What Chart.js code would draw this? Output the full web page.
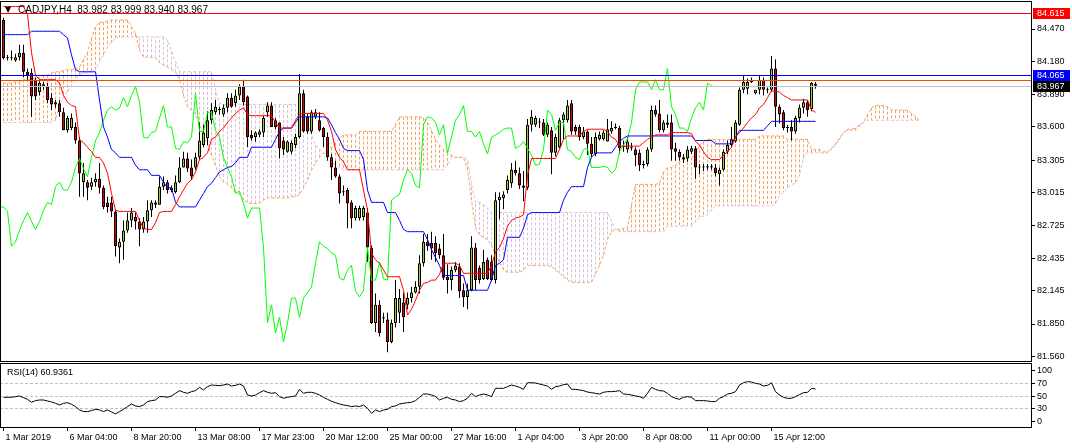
<!DOCTYPE html>
<html><head><meta charset="utf-8">
<script src="https://cdn.jsdelivr.net/npm/chart.js@4.4.1/dist/chart.umd.min.js"></script>
<style>
html,body{margin:0;padding:0;background:#fff;width:1072px;height:448px;overflow:hidden}
canvas{position:absolute;left:0;display:block}
#c1{top:0}
#c2{top:362px}
</style></head><body>
<canvas id="c1" width="1072" height="362"></canvas>
<canvas id="c2" width="1072" height="86"></canvas>
<script>
// ---------- data ----------
const symbol = 'CADJPY';
const timeframe = 'H4';
const opens = [
84.55,84.21,84.21,84.19,84.22,84.26,84.09,84.08,84.02,83.91,
83.96,83.96,83.86,83.80,83.81,83.73,83.57,83.59,83.60,83.48,
83.11,83.11,83.07,83.11,83.14,83.06,82.93,82.93,82.85,82.53,
82.58,82.68,82.77,82.80,82.76,82.69,82.76,82.86,82.93,82.91,
83.07,83.11,83.06,83.02,83.11,83.24,83.32,83.24,83.24,83.33,
83.44,83.50,83.66,83.73,83.75,83.71,83.77,83.86,83.81,83.88,
83.96,83.87,83.53,83.51,83.53,83.55,83.73,83.79,83.66,83.64,
83.48,83.38,83.38,83.44,83.51,83.90,83.69,83.56,83.69,83.66,
83.59,83.51,83.33,83.24,83.16,83.02,83.04,82.93,82.79,82.79,
82.80,82.84,82.53,81.86,82.02,81.90,81.89,81.69,81.86,81.95,
82.04,82.02,82.08,82.13,82.18,82.39,82.58,82.57,82.57,82.52,
82.46,82.27,82.24,82.33,82.36,82.15,82.09,82.15,82.53,82.35,
82.25,82.42,82.40,82.24,82.95,82.97,83.04,83.10,83.22,83.19,
83.08,83.06,83.62,83.62,83.64,83.64,83.53,83.57,83.37,83.42,
83.66,83.66,83.81,83.60,83.60,83.51,83.56,83.45,83.36,83.49,
83.49,83.47,83.56,83.59,83.59,83.42,83.40,83.42,83.40,83.37,
83.26,83.27,83.40,83.75,83.72,83.57,83.62,83.64,83.41,83.38,
83.33,83.32,83.38,83.41,83.24,83.24,83.24,83.25,83.24,83.18,
83.22,83.38,83.44,83.47,83.62,83.93,83.94,84.00,83.90,83.93,
84.02,83.93,83.93,84.12,83.78,83.73,83.60,83.60,83.56,83.68,
83.77,83.82,83.76,83.982];
const highs = [
84.57,84.24,84.28,84.25,84.33,84.33,84.12,84.12,84.04,84.02,
84.00,83.99,83.90,83.84,83.84,83.77,83.70,83.72,83.64,83.51,
83.28,83.13,83.15,83.19,83.28,83.08,82.98,82.98,82.86,82.61,
82.77,82.84,82.88,82.84,82.79,82.80,82.95,82.95,82.95,83.16,
83.16,83.13,83.08,83.17,83.33,83.38,83.37,83.31,83.37,83.64,
83.62,83.74,83.81,83.84,83.78,83.80,83.90,83.90,83.93,83.98,
84.02,83.88,83.57,83.56,83.58,83.70,83.82,83.82,83.68,83.64,
83.51,83.48,83.48,83.54,84.07,83.93,83.72,83.75,83.76,83.73,
83.60,83.55,83.36,83.30,83.18,83.08,83.06,82.95,82.90,82.90,
82.90,82.88,82.55,82.12,82.06,81.95,81.95,81.89,82.24,82.16,
82.13,82.13,82.18,82.23,82.46,82.65,82.65,82.67,82.63,82.56,
82.65,82.38,82.36,82.40,82.39,82.21,82.21,82.63,82.57,82.37,
82.51,82.44,82.46,83.02,83.02,83.03,83.17,83.28,83.30,83.24,
83.21,83.67,83.75,83.70,83.68,83.67,83.64,83.60,83.54,83.68,
83.73,83.84,83.84,83.62,83.62,83.60,83.57,83.51,83.55,83.56,
83.57,83.67,83.65,83.63,83.61,83.48,83.51,83.46,83.42,83.40,
83.30,83.42,83.79,83.79,83.84,83.66,83.71,83.71,83.46,83.40,
83.36,83.43,83.43,83.43,83.27,83.27,83.27,83.27,83.27,83.24,
83.40,83.48,83.60,83.66,83.95,84.06,84.03,84.04,83.93,84.06,
84.04,83.95,84.23,84.20,83.80,83.75,83.62,83.66,83.70,83.80,
83.85,83.84,84.00,83.999];
const lows = [
84.20,84.19,84.19,84.18,84.19,84.04,84.02,83.69,83.84,83.88,
83.93,83.81,83.75,83.77,83.69,83.57,83.55,83.57,83.45,82.98,
82.98,82.95,83.04,83.07,83.01,82.87,82.84,82.80,82.45,82.39,
82.42,82.66,82.71,82.69,82.54,82.66,82.66,82.80,82.88,82.91,
83.04,83.01,83.02,83.01,83.10,83.24,83.20,83.13,83.22,83.31,
83.42,83.44,83.63,83.71,83.71,83.69,83.73,83.77,83.78,83.84,
83.79,83.42,83.48,83.47,83.51,83.51,83.69,83.60,83.58,83.32,
83.35,83.37,83.36,83.41,83.50,83.55,83.54,83.54,83.67,83.56,
83.42,83.30,83.13,83.15,82.92,82.99,82.70,82.70,82.77,82.77,
82.77,82.40,81.85,81.78,81.74,81.86,81.60,81.68,81.82,81.86,
81.78,81.98,82.04,82.12,82.12,82.36,82.50,82.42,82.40,82.43,
82.24,82.12,82.15,82.31,82.08,82.00,81.98,82.14,82.15,82.21,
82.24,82.24,82.23,82.21,82.78,82.87,83.01,83.06,83.17,83.05,
82.94,83.04,83.56,83.60,83.59,83.52,83.51,83.18,83.34,83.41,
83.49,83.64,83.53,83.53,83.48,83.49,83.35,83.33,83.34,83.48,
83.48,83.47,83.54,83.58,83.36,83.38,83.37,83.39,83.25,83.21,
83.23,83.25,83.38,83.69,83.55,83.55,83.59,83.30,83.30,83.30,
83.28,83.29,83.36,83.14,83.18,83.21,83.22,83.22,83.16,83.08,
83.21,83.36,83.42,83.46,83.61,83.90,83.89,83.99,83.89,83.89,
83.88,83.90,83.91,83.60,83.63,83.57,83.55,83.48,83.54,83.64,
83.72,83.69,83.74,83.940];
const closes = [
84.21,84.21,84.21,84.22,84.26,84.09,84.06,83.87,83.87,83.99,
83.98,83.84,83.80,83.82,83.73,83.57,83.68,83.68,83.48,83.19,
83.19,83.06,83.11,83.14,83.06,82.89,82.89,82.85,82.54,82.58,
82.68,82.77,82.84,82.76,82.69,82.76,82.86,82.93,82.91,83.07,
83.11,83.04,83.04,83.11,83.24,83.32,83.23,83.16,83.33,83.48,
83.55,83.66,83.75,83.78,83.75,83.77,83.86,83.78,83.88,83.96,
83.82,83.51,83.50,83.55,83.56,83.68,83.79,83.60,83.60,83.41,
83.40,83.47,83.46,83.51,83.90,83.56,83.56,83.73,83.73,83.57,
83.51,83.33,83.24,83.16,83.01,83.03,82.92,82.79,82.88,82.88,
82.88,82.53,81.86,82.02,81.77,81.91,81.69,81.86,82.08,82.08,
81.91,82.08,82.13,82.18,82.39,82.58,82.54,82.52,82.48,82.46,
82.26,82.24,82.33,82.37,82.14,82.09,82.15,82.53,82.24,82.24,
82.40,82.25,82.24,82.95,82.98,83.00,83.13,83.22,83.19,83.08,
83.06,83.62,83.69,83.68,83.64,83.53,83.62,83.37,83.51,83.66,
83.71,83.79,83.56,83.56,83.51,83.56,83.45,83.36,83.51,83.53,
83.55,83.58,83.59,83.59,83.41,83.43,83.47,83.41,83.35,83.26,
83.27,83.40,83.75,83.71,83.57,83.64,83.64,83.40,83.38,83.33,
83.31,83.40,83.41,83.24,83.24,83.24,83.25,83.24,83.19,83.22,
83.38,83.44,83.49,83.64,83.93,84.00,84.00,84.00,83.93,84.02,
83.93,83.93,84.12,83.78,83.71,83.59,83.59,83.56,83.68,83.77,
83.82,83.75,83.99,83.967];
// Ichimoku Tenkan-sen (red), Kijun-sen (blue), one value per bar
const tenkan = [
84.67,84.67,84.67,84.67,84.67,84.67,84.60,84.26,84.06,84.02,
84.02,84.02,84.02,84.02,83.99,83.88,83.82,83.79,83.78,83.49,
83.46,83.42,83.38,83.33,83.33,83.28,83.19,83.01,82.86,82.85,
82.85,82.85,82.85,82.85,82.77,82.70,82.69,82.69,82.75,82.84,
82.85,82.85,82.85,82.91,82.98,83.04,83.10,83.13,83.20,83.31,
83.33,83.37,83.49,83.51,83.56,83.59,83.64,83.68,83.72,83.75,
83.77,83.71,83.70,83.70,83.70,83.70,83.70,83.70,83.64,83.59,
83.59,83.59,83.59,83.66,83.71,83.72,83.72,83.72,83.72,83.72,
83.72,83.66,83.56,83.40,83.33,83.29,83.22,83.22,83.22,83.22,
83.04,82.86,82.48,82.42,82.39,82.33,82.27,82.27,82.27,82.27,
82.15,81.93,81.98,82.06,82.15,82.21,82.22,82.24,82.24,82.29,
82.39,82.39,82.39,82.39,82.37,82.30,82.30,82.30,82.30,82.30,
82.30,82.30,82.37,82.49,82.53,82.61,82.72,82.77,82.79,82.80,
82.82,83.17,83.32,83.32,83.32,83.32,83.32,83.32,83.32,83.40,
83.49,83.52,83.52,83.52,83.52,83.56,83.58,83.58,83.58,83.58,
83.58,83.56,83.51,83.49,83.43,83.43,83.43,83.43,83.43,83.43,
83.46,83.49,83.51,83.53,83.53,83.53,83.53,83.55,83.55,83.55,
83.55,83.55,83.54,83.47,83.44,83.38,83.33,83.31,83.31,83.31,
83.35,83.38,83.42,83.51,83.55,83.59,83.64,83.68,83.71,83.77,
83.80,83.86,83.92,83.92,83.91,83.88,83.86,83.84,83.84,83.84,
83.84,83.84,83.75,83.73];
const kijun = [
84.42,84.42,84.42,84.42,84.42,84.42,84.42,84.45,84.45,84.45,
84.45,84.45,84.45,84.45,84.45,84.42,84.39,84.24,84.11,84.09,
84.09,84.09,84.09,84.09,83.84,83.60,83.51,83.40,83.37,83.33,
83.33,83.33,83.33,83.26,83.22,83.22,83.22,83.17,83.17,83.17,
83.11,83.06,83.06,82.93,82.89,82.89,82.89,82.89,82.89,82.95,
83.01,83.07,83.10,83.15,83.20,83.22,83.24,83.25,83.28,83.33,
83.33,83.33,83.42,83.42,83.42,83.42,83.42,83.42,83.49,83.56,
83.59,83.59,83.59,83.64,83.69,83.69,83.69,83.69,83.69,83.69,
83.69,83.68,83.62,83.55,83.49,83.41,83.39,83.39,83.39,83.39,
83.31,83.04,82.93,82.93,82.93,82.93,82.84,82.84,82.84,82.77,
82.69,82.67,82.67,82.67,82.67,82.67,82.60,82.51,82.44,82.37,
82.28,82.28,82.28,82.28,82.28,82.28,82.15,82.15,82.15,82.15,
82.15,82.15,82.24,82.37,82.39,82.42,82.62,82.62,82.62,82.62,
82.70,82.82,82.84,82.84,82.84,82.84,82.84,82.84,82.84,82.84,
82.95,83.02,83.07,83.07,83.07,83.07,83.24,83.33,83.37,83.37,
83.37,83.37,83.37,83.42,83.47,83.50,83.52,83.52,83.52,83.52,
83.52,83.52,83.52,83.52,83.52,83.52,83.52,83.52,83.52,83.52,
83.52,83.52,83.52,83.48,83.48,83.48,83.48,83.48,83.45,83.45,
83.45,83.45,83.45,83.51,83.57,83.57,83.57,83.57,83.57,83.57,
83.57,83.61,83.65,83.65,83.65,83.65,83.65,83.65,83.65,83.65,
83.65,83.65,83.65,83.65];
// Senkou span A / B as displayed (already shifted 26 bars forward)
const senkouA = [
83.99,83.99,83.99,84.00,84.00,84.02,84.02,84.02,84.04,84.04,
84.06,84.06,84.08,84.09,84.09,84.10,84.11,84.11,84.11,84.13,
84.20,84.26,84.39,84.49,84.53,84.53,84.54,84.55,84.55,84.55,
84.55,84.55,84.49,84.43,84.28,84.22,84.22,84.22,84.21,84.17,
84.15,84.13,84.11,84.09,84.02,83.88,83.78,83.75,83.71,83.62,
83.53,83.44,83.35,83.26,83.16,83.11,83.09,83.06,83.02,83.00,
82.95,82.93,82.92,82.92,82.92,82.95,82.97,82.97,82.97,82.97,
82.97,82.97,82.98,82.98,83.00,83.06,83.13,83.22,83.28,83.33,
83.37,83.40,83.42,83.46,83.50,83.53,83.53,83.53,83.53,83.56,
83.56,83.56,83.56,83.56,83.56,83.56,83.56,83.56,83.62,83.69,
83.69,83.69,83.69,83.69,83.69,83.68,83.64,83.57,83.49,83.44,
83.40,83.37,83.35,83.33,83.33,83.33,83.22,82.95,82.71,82.64,
82.62,82.60,82.55,82.46,82.40,82.33,82.31,82.31,82.31,82.31,
82.33,82.37,82.37,82.37,82.37,82.37,82.37,82.36,82.33,82.30,
82.27,82.24,82.22,82.22,82.22,82.22,82.22,82.22,82.29,82.37,
82.46,82.60,82.67,82.69,82.69,82.70,82.70,82.91,83.09,83.09,
83.09,83.09,83.09,83.09,83.10,83.20,83.24,83.24,83.26,83.29,
83.31,83.33,83.33,83.35,83.44,83.47,83.49,83.49,83.49,83.49,
83.49,83.49,83.49,83.49,83.49,83.49,83.49,83.49,83.49,83.52,
83.52,83.52,83.52,83.52,83.52,83.52,83.49,83.49,83.49,83.49,
83.49,83.49,83.40,83.40,83.40,83.38,83.38,83.41,83.45,83.50,
83.55,83.58,83.58,83.59,83.62,83.64,83.71,83.77,83.79,83.79,
83.79,83.78,83.75,83.75,83.75,83.75,83.75,83.72,83.69,83.66];
const senkouB = [
83.64,83.64,83.64,83.64,83.64,83.64,83.64,83.64,83.64,83.64,
83.64,83.64,83.64,83.66,83.79,83.87,83.91,83.97,84.02,84.06,
84.08,84.08,84.09,84.11,84.18,84.24,84.31,84.35,84.39,84.40,
84.40,84.40,84.40,84.40,84.40,84.40,84.40,84.40,84.40,84.40,
84.40,84.37,84.28,84.18,84.09,84.09,84.09,84.09,84.09,84.09,
84.09,84.09,84.09,83.93,83.81,83.80,83.80,83.80,83.80,83.80,
83.80,83.80,83.80,83.80,83.80,83.80,83.80,83.80,83.80,83.80,
83.80,83.80,83.80,83.80,83.79,83.75,83.62,83.53,83.44,83.40,
83.37,83.35,83.31,83.26,83.24,83.22,83.22,83.22,83.22,83.22,
83.22,83.22,83.22,83.22,83.22,83.22,83.22,83.22,83.22,83.22,
83.22,83.22,83.22,83.22,83.22,83.22,83.22,83.22,83.22,83.22,
83.22,83.26,83.33,83.33,83.33,83.33,83.31,83.09,82.93,82.93,
82.91,82.88,82.84,82.84,82.84,82.84,82.84,82.84,82.84,82.84,
82.84,82.84,82.84,82.84,82.84,82.84,82.84,82.84,82.84,82.84,
82.84,82.84,82.84,82.84,82.84,82.84,82.84,82.84,82.84,82.84,
82.84,82.84,82.77,82.69,82.67,82.67,82.67,82.67,82.67,82.67,
82.67,82.67,82.67,82.67,82.67,82.67,82.72,82.72,82.72,82.72,
82.72,82.72,82.72,82.76,82.80,82.81,82.82,82.86,82.90,82.90,
82.90,82.90,82.90,82.90,82.90,82.90,82.90,82.90,82.90,82.90,
82.90,82.90,82.90,82.92,82.99,83.02,83.06,83.09,83.10,83.17,
83.33,83.37,83.37,83.37,83.37,83.37,83.37,83.40,83.44,83.49,
83.55,83.57,83.57,83.57,83.60,83.64,83.66,83.66,83.66,83.66,
83.66,83.66,83.66,83.66,83.66,83.66,83.66,83.66,83.66,83.66];
const chikouShift = 26;
const rsiPeriod = 14;
const rsi = [
47.6,47.6,47.6,48.7,49.7,47.0,44.4,39.6,42.3,43.3,
43.3,41.7,40.1,38.0,35.3,38.0,39.0,36.4,32.7,27.4,
24.7,24.7,26.3,28.4,27.4,24.7,27.4,24.2,21.0,24.7,
28.4,32.7,36.9,33.7,32.7,35.3,40.7,42.3,43.3,48.7,
48.7,47.6,49.7,54.0,58.3,55.6,54.0,56.7,58.3,63.6,
59.3,64.7,67.3,66.8,66.3,67.3,68.9,65.7,66.8,68.9,
65.7,51.3,49.7,51.3,55.0,58.3,55.6,54.0,55.0,48.7,
46.0,47.6,48.7,49.7,60.4,54.0,55.6,55.6,54.0,51.3,
47.6,44.4,41.2,39.0,36.9,35.3,34.3,32.7,33.7,32.7,
35.3,30.0,22.0,27.3,24.7,27.3,28.4,32.7,33.7,36.9,
38.0,39.0,39.6,42.3,47.6,52.9,52.9,51.3,48.7,43.3,
46.0,47.6,44.4,43.3,40.7,42.3,46.0,54.0,48.7,51.3,
52.9,51.3,48.7,62.0,62.0,62.0,64.7,67.3,65.7,63.6,
60.4,71.0,71.0,70.5,68.9,67.3,65.7,60.4,64.7,65.7,
67.9,68.9,60.4,60.4,59.3,58.3,56.1,55.0,54.0,52.9,
55.6,56.7,56.7,57.2,58.3,52.9,52.4,51.3,49.7,48.7,
46.0,54.0,63.6,60.4,58.3,57.7,54.0,48.7,46.0,44.4,
47.6,48.7,47.6,42.3,42.3,42.3,41.7,40.7,40.7,46.0,
48.7,52.9,54.0,56.7,67.3,71.0,72.7,72.1,70.0,68.9,
65.7,66.8,71.0,56.7,51.3,47.6,46.0,46.0,48.7,51.9,
55.0,55.6,62.0,60.9361];
const rsiLevels = [70, 50, 30];
const rsiAxisLabels = [100, 70, 50, 30, 0];
const priceTicks = [84.470, 84.180, 83.890, 83.600, 83.305, 83.015, 82.725, 82.435, 82.145, 81.850, 81.560];
const xTickBars = [0, 16, 32, 48, 64, 80, 96, 112, 128, 144, 160, 176, 192];
const xTickLabels = ['1 Mar 2019','6 Mar 04:00','8 Mar 20:00','13 Mar 08:00','17 Mar 23:00','20 Mar 12:00',
  '25 Mar 00:00','27 Mar 16:00','1 Apr 04:00','3 Apr 20:00','8 Apr 08:00','11 Apr 00:00','15 Apr 12:00'];
const levelValues = [84.615, 84.065, 84.015, 83.967];
const boxLevels = [84.615, 84.065, 83.967];

// ---------- styles ----------
const levelColors = ['#FF0000', '#0000FF', '#FF4500', '#C0C0C0'];
const boxColors = ['#FF0000', '#0000FF', '#000000'];
const FAM = '"Liberation Sans", Arial, sans-serif';
const F9 = '9px ' + FAM;
const X_MIN = -0.875, X_MAX = 256.875;
const Y_MIN = 81.5215, Y_MAX = 84.7098;
const bull = '#9ACD32', bear = '#DD0000';
const colA = '#F4A460', colB = '#D8BFD8';

const last = closes.length - 1;
const bars = closes.map((c, i) => i);

// cloud hatch: one dashed vertical stroke per bar from span A to span B, split by which span is on top
const hatchUp = [], hatchDown = [];
senkouA.forEach((a, i) => {
  const b = senkouB[i];
  const target = a >= b ? hatchUp : hatchDown;
  target.push({x: i, y: a}, {x: i, y: b}, {x: i, y: null});
});

const mainDeco = {
  id: 'mainDeco',
  beforeDraw(chart) {
    const c = chart.ctx; c.save(); c.fillStyle = '#fff'; c.fillRect(0, 0, chart.width, chart.height); c.restore();
  },
  afterDatasetsDraw(chart) {
    const c = chart.ctx, a = chart.chartArea, y = chart.scales.y;
    c.save();
    c.lineWidth = 1;
    levelValues.forEach((v, k) => {
      const py = Math.round(y.getPixelForValue(v)) + 0.5;
      c.strokeStyle = levelColors[k];
      c.beginPath(); c.moveTo(a.left, py); c.lineTo(a.right + 1, py); c.stroke();
    });
    c.strokeStyle = '#000';
    c.strokeRect(a.left + 0.5, a.top - 0.5, a.right - a.left, a.bottom - a.top + 1);
    c.fillStyle = '#000';
    c.textBaseline = 'middle';
    c.font = '8px "DejaVu Sans", sans-serif';
    c.fillText('\u25BC', 5, 10);
    c.font = '10px ' + FAM;
    const t = symbol + ',' + timeframe + '  ' + [opens[last], highs[last], lows[last], closes[last]].map(v => v.toFixed(3)).join(' ');
    c.fillText(t, 18, 10);
    c.restore();
  },
  afterDraw(chart) {
    const c = chart.ctx, a = chart.chartArea, y = chart.scales.y;
    c.save();
    c.font = F9; c.textBaseline = 'middle';
    boxLevels.forEach((v, k) => {
      const py = Math.round(y.getPixelForValue(v));
      c.fillStyle = boxColors[k];
      c.fillRect(a.right + 2, py - 5, 37, 11);
      c.fillStyle = '#fff';
      c.fillText(v.toFixed(3), a.right + 6, py + 0.5);
    });
    c.restore();
  }
};

new Chart(document.getElementById('c1').getContext('2d'), {
  type: 'bar',
  data: {
    datasets: [
      { type: 'line', data: tenkan.map((v, i) => ({x: bars[i], y: v})), borderColor: '#FF0000', borderWidth: 1, pointRadius: 0, order: 0 },
      { type: 'line', data: kijun.map((v, i) => ({x: bars[i], y: v})), borderColor: '#0000FF', borderWidth: 1, pointRadius: 0, order: 0 },
      { type: 'line', data: closes.map((v, i) => ({x: i - chikouShift, y: v})), borderColor: '#00FF00', borderWidth: 1, pointRadius: 0, order: 0 },
      { type: 'bar', data: lows.map((v, i) => ({x: bars[i], y: [v, highs[i]]})), backgroundColor: '#000', borderWidth: 0,
        barThickness: 1, grouped: false, inflateAmount: 0, order: 2 },
      { type: 'bar', data: opens.map((v, i) => ({x: bars[i], y: [v, closes[i]]})),
        backgroundColor: opens.map((v, i) => closes[i] >= v ? bull : bear), borderColor: '#000', borderWidth: 1,
        borderSkipped: false, barThickness: 3, minBarLength: 1, grouped: false, inflateAmount: 0, order: 1 },
      { type: 'line', data: hatchUp, borderColor: colA, borderWidth: 1, borderDash: [3, 2], pointRadius: 0, spanGaps: false, order: 4 },
      { type: 'line', data: hatchDown, borderColor: colB, borderWidth: 1, borderDash: [3, 2], pointRadius: 0, spanGaps: false, order: 4 },
      { type: 'line', data: senkouA.map((v, i) => ({x: i, y: v})), borderColor: colA, borderWidth: 1, borderDash: [3, 2],
        pointRadius: 0, order: 3 },
      { type: 'line', data: senkouB.map((v, i) => ({x: i, y: v})), borderColor: colB, borderWidth: 1, borderDash: [3, 2],
        pointRadius: 0, order: 3 }
    ]
  },
  options: {
    responsive: false, animation: false, devicePixelRatio: 1,
    layout: { padding: { left: 0, right: 0, top: 2, bottom: 1 } },
    plugins: { legend: { display: false }, tooltip: { enabled: false } },
    scales: {
      x: { type: 'linear', min: X_MIN, max: X_MAX, display: false, offset: false },
      y: {
        position: 'right', min: Y_MIN, max: Y_MAX,
        afterBuildTicks: s => { s.ticks = priceTicks.map(v => ({ value: v })); },
        afterFit: s => { s.width = 41; s.paddingTop = 0; s.paddingBottom = 0; },
        ticks: { font: { family: FAM, size: 9 }, color: '#000', padding: 2, autoSkip: false, callback: v => Number(v).toFixed(3) },
        grid: { drawOnChartArea: false, tickLength: 4, color: '#000' },
        border: { display: false }
      }
    }
  },
  plugins: [mainDeco]
});

const rsiDeco = {
  id: 'rsiDeco',
  beforeDraw(chart) {
    const c = chart.ctx; c.save(); c.fillStyle = '#fff'; c.fillRect(0, 0, chart.width, chart.height); c.restore();
  },
  beforeDatasetsDraw(chart) {
    const c = chart.ctx, a = chart.chartArea, y = chart.scales.y;
    c.save(); c.lineWidth = 1; c.strokeStyle = '#C0C0C0'; c.setLineDash([3, 2]);
    rsiLevels.forEach(v => {
      const py = Math.round(y.getPixelForValue(v)) + 0.5;
      c.beginPath(); c.moveTo(a.left, py); c.lineTo(a.right, py); c.stroke();
    });
    c.restore();
  },
  afterDraw(chart) {
    const c = chart.ctx, a = chart.chartArea, y = chart.scales.y;
    c.save();
    c.strokeStyle = '#000'; c.lineWidth = 1;
    c.strokeRect(a.left + 0.5, a.top - 0.5, a.right - a.left, a.bottom - a.top + 1);
    c.fillStyle = '#000'; c.font = F9; c.textBaseline = 'middle';
    c.fillText('RSI(' + rsiPeriod + ') ' + rsi[last].toFixed(4), 7, a.top + 9);
    rsiAxisLabels.forEach(v => {
      const py = Math.round(Math.min(Math.max(y.getPixelForValue(v), a.top + 6), a.bottom - 6));
      c.beginPath(); c.moveTo(a.right, py + 0.5); c.lineTo(a.right + 4, py + 0.5); c.stroke();
      c.fillText(String(v), a.right + 6, py + 0.5);
    });
    c.restore();
  }
};

new Chart(document.getElementById('c2').getContext('2d'), {
  type: 'line',
  data: { datasets: [{ data: rsi.map((v, i) => ({x: bars[i], y: v})), borderColor: '#000', borderWidth: 1, pointRadius: 0 }] },
  options: {
    responsive: false, animation: false, devicePixelRatio: 1,
    layout: { padding: { left: 0, right: 0, top: 2, bottom: 0 } },
    plugins: { legend: { display: false }, tooltip: { enabled: false } },
    scales: {
      x: {
        type: 'linear', min: X_MIN, max: X_MAX, offset: false,
        afterBuildTicks: s => { s.ticks = xTickBars.map(v => ({ value: v })); },
        afterFit: s => { s.height = 21; s.paddingLeft = 0; s.paddingRight = 0; },
        ticks: { font: { family: FAM, size: 9 }, color: '#000', align: 'start', labelOffset: 2, padding: 1,
          autoSkip: false, maxRotation: 0, minRotation: 0, callback: (v, i) => xTickLabels[i] },
        grid: { drawOnChartArea: false, tickLength: 4, color: '#000' },
        border: { display: false }
      },
      y: {
        position: 'right', min: 0, max: 101,
        afterFit: s => { s.width = 41; s.paddingTop = 0; s.paddingBottom = 0; },
        ticks: { display: false }, grid: { display: false }, border: { display: false }
      }
    }
  },
  plugins: [rsiDeco]
});
</script>
</body></html>
